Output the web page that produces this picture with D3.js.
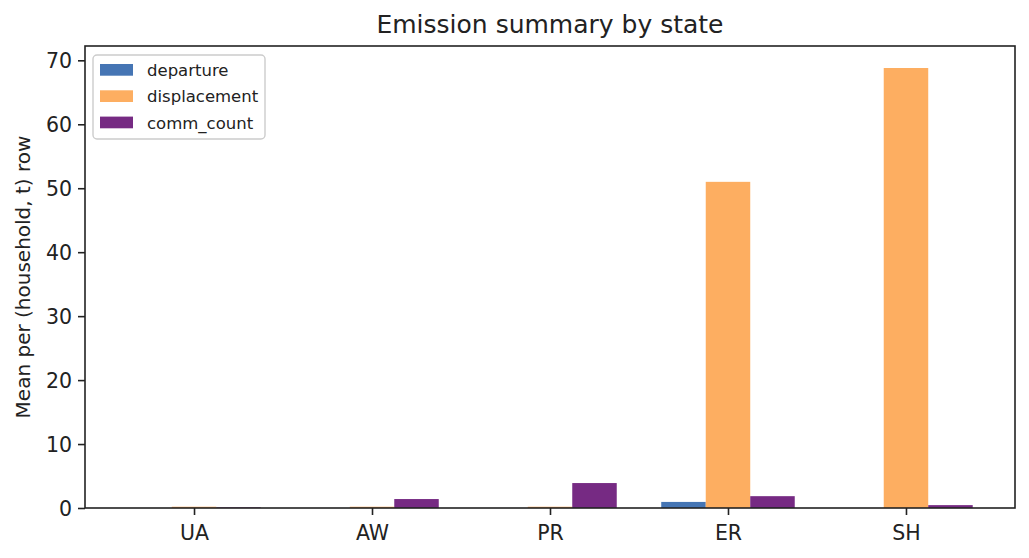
<!DOCTYPE html>
<html>
<head>
<meta charset="utf-8">
<script src="https://cdn.jsdelivr.net/npm/d3@7"></script>
<style>
  body { margin: 0; background: #fff; }
  svg { display: block; font-family: "DejaVu Sans", sans-serif; }
</style>
</head>
<body>
<svg id="chart"></svg>
<script>
// Chart data
const categories = ['UA', 'AW', 'PR', 'ER', 'SH'];
const seriesNames = ['departure', 'displacement', 'comm_count'];
const departure = [0, 0, 0, 0.95, 0];
const displacement = [0.2, 0.2, 0.2, 51.0, 68.8];
const commCount = [0.1, 1.4, 3.9, 1.85, 0.45];
const yTicks = [0, 10, 20, 30, 40, 50, 60, 70];

const colors = ['#4575b4', '#fdae61', '#762a83'];

const width = 1029, height = 558;
const margin = { top: 46, right: 14, bottom: 50, left: 85 };
const innerW = width - margin.left - margin.right;
const innerH = height - margin.top - margin.bottom;
const textColor = '#222';

const svg = d3.select('#chart')
  .attr('width', width)
  .attr('height', height);

svg.append('rect')
  .attr('width', width)
  .attr('height', height)
  .attr('fill', '#fff');

// Grouped bar offsets, like matplotlib bars at i-0.25, i, i+0.25
const barW = 0.25;
const offsets = [-barW, 0, barW];
const allSeries = [departure, displacement, commCount];

// x domain with matplotlib's 5% margin
const xMin = offsets[0] - barW / 2;
const xMax = categories.length - 1 + offsets[2] + barW / 2;
const xPad = (xMax - xMin) * 0.05;
const x = d3.scaleLinear()
  .domain([xMin - xPad, xMax + xPad])
  .range([0, innerW]);

const yMax = d3.max(allSeries.flat());
const y = d3.scaleLinear()
  .domain([0, yMax * 1.05])
  .range([innerH, 0]);

const g = svg.append('g')
  .attr('transform', `translate(${margin.left},${margin.top})`);

// Bars
const barData = [];
allSeries.forEach((vals, s) => {
  vals.forEach((v, i) => {
    barData.push({ s, i, v });
  });
});

g.selectAll('.bar')
  .data(barData)
  .join('rect')
  .attr('class', 'bar')
  .attr('x', d => x(d.i + offsets[d.s] - barW / 2))
  .attr('width', d => x(barW) - x(0))
  .attr('y', d => y(d.v))
  .attr('height', d => y(0) - y(d.v))
  .attr('fill', d => colors[d.s]);

// Axes
const yAxis = d3.axisLeft(y)
  .tickValues(yTicks)
  .tickFormat(d3.format('d'))
  .tickSize(7)
  .tickPadding(6);

const xAxis = d3.axisBottom(x)
  .tickValues(d3.range(categories.length))
  .tickFormat(i => categories[i])
  .tickSize(7)
  .tickPadding(6);

const yG = g.append('g').call(yAxis);
const xG = g.append('g')
  .attr('transform', `translate(0,${innerH})`)
  .call(xAxis);

[yG, xG].forEach(ax => {
  ax.select('.domain').remove();
  ax.selectAll('.tick line')
    .attr('stroke', textColor)
    .attr('stroke-width', 1.6);
  ax.selectAll('.tick text')
    .attr('fill', textColor)
    .style('font-size', '20.5px')
    .style('font-family', '"DejaVu Sans", sans-serif');
});
xG.selectAll('.tick text').attr('dy', '0.95em');
yG.selectAll('.tick text').attr('dy', '0.36em');

// Frame on top of the bars
g.append('rect')
  .attr('width', innerW)
  .attr('height', innerH)
  .attr('fill', 'none')
  .attr('stroke', textColor)
  .attr('stroke-width', 1.6);

// Title
svg.append('text')
  .attr('x', margin.left + innerW / 2)
  .attr('y', 33)
  .attr('text-anchor', 'middle')
  .attr('fill', textColor)
  .style('font-size', '25px')
  .text('Emission summary by state');

// Y label
svg.append('text')
  .attr('transform', `translate(30,${margin.top + innerH / 2}) rotate(-90)`)
  .attr('text-anchor', 'middle')
  .attr('fill', textColor)
  .style('font-size', '20px')
  .text('Mean per (household, t) row');

// Legend
const legend = svg.append('g')
  .attr('transform', 'translate(93,55)');

legend.append('rect')
  .attr('width', 172)
  .attr('height', 84)
  .attr('rx', 4)
  .attr('fill', '#fff')
  .attr('fill-opacity', 0.8)
  .attr('stroke', '#cccccc')
  .attr('stroke-width', 1.4);

const items = legend.selectAll('.item')
  .data(seriesNames)
  .join('g')
  .attr('class', 'item')
  .attr('transform', (d, i) => `translate(7,${9 + i * 26.3})`);

items.append('rect')
  .attr('width', 33)
  .attr('height', 11.7)
  .attr('fill', (d, i) => colors[i]);

items.append('text')
  .attr('x', 47)
  .attr('y', 6)
  .attr('dy', '0.36em')
  .attr('fill', textColor)
  .style('font-size', '16.5px')
  .text(d => d);
</script>
</body>
</html>
